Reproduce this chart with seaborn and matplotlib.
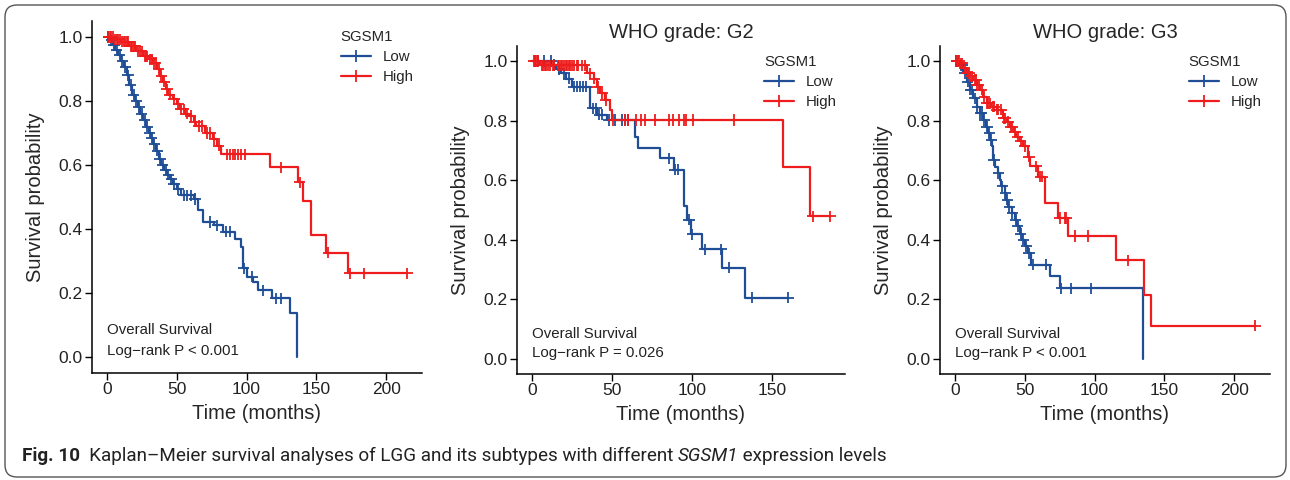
import numpy as np
import pandas as pd
import matplotlib
matplotlib.use("Agg")
import matplotlib.pyplot as plt
import seaborn as sns
from matplotlib.lines import Line2D
from matplotlib.patches import FancyBboxPatch
from matplotlib.transforms import IdentityTransform

# ---------------- data ----------------
groups = ["Low", "High"]
titles = ["", "WHO grade: G2", "WHO grade: G3"]
pvals = ["Log\u2212rank P < 0.001", "Log\u2212rank P = 0.026", "Log\u2212rank P < 0.001"]
xticks = [[0, 50, 100, 150, 200], [0, 50, 100, 150], [0, 50, 100, 150, 200]]
yticks = [0.0, 0.2, 0.4, 0.6, 0.8, 1.0]

# Panel 1: all LGG
low1_t = [0, 2, 4, 6, 8, 10, 12, 14, 16, 18, 20, 22, 24, 26, 28, 30, 31.5, 33, 35, 37,
          39, 41, 43, 45, 47, 50, 53, 62, 65, 68.5, 77, 83, 92, 96, 97.5, 100, 104.5, 108, 118, 131.5, 136]
low1_s = [1.0, .99, .975, .96, .945, .925, .905, .88, .85, .82, .80, .78, .76, .74, .72, .70, .685, .665, .645, .62,
          .60, .585, .57, .555, .54, .525, .505, .494, .458, .422, .411, .391, .37, .344, .277, .251, .235, .209, .183, .137, 0.0]
low1_c = [1, 3, 5, 7, 9, 11, 13, 15, 17, 19, 21, 23, 25, 27, 29, 30.5, 32, 34, 36, 38, 40, 42, 44, 46, 48,
          51, 55, 57, 60, 63, 74, 79, 85, 88, 98, 104, 112, 121, 125]
high1_t = [0, 5, 10, 16, 21, 26, 30, 33, 36, 38, 40, 42, 44, 47, 50, 52, 56, 59, 62, 64, 70, 76, 78.5, 82,
           116.5, 137, 140.5, 146.5, 157.3, 173, 215]
high1_s = [1.0, .993, .985, .971, .955, .94, .93, .919, .90, .878, .86, .836, .82, .805, .79, .774, .76, .753, .735, .722,
           .70, .681, .66, .634, .593, .546, .487, .38, .326, .261, .261]
high1_c = [1, 2, 3, 4, 6, 7, 8, 9, 11, 12, 13, 14, 15, 17, 18, 19, 20, 22, 24, 25, 27, 28, 29, 31, 32, 34, 35, 37,
           39, 41, 43, 45, 48, 51, 53, 55, 57, 60, 63, 66, 68, 72, 74, 77, 80, 86, 88, 90, 92, 94, 96, 99,
           125, 138, 158.5, 174, 184, 215]

# Panel 2: WHO grade G2
low2_t = [0, 12, 15, 18, 21, 25, 36.4, 40.5, 46.7, 64.2, 66, 79.6, 88.9, 95, 96.8, 99.2, 106.4, 118.7, 132.7, 160]
low2_s = [1.0, .986, .972, .958, .941, .913, .841, .819, .802, .746, .707, .674, .635, .512, .468, .418, .368, .306, .206, .206]
low2_c = [2, 4, 7.8, 11.9, 14, 17, 20, 23, 26, 28, 30, 32, 34, 38, 40, 42, 44, 48, 52, 56, 58, 60,
          85.8, 89, 91, 98, 100, 108, 118, 123, 137, 160]
high2_t = [0, 5, 34.4, 38.5, 40.6, 42.6, 45.7, 48.8, 49.8, 156.8, 173.3, 186]
high2_s = [1.0, .985, .958, .941, .913, .891, .869, .835, .802, .643, .479, .479]
high2_c = [1, 2, 3, 4, 6, 7, 8, 9, 10, 11, 13, 14, 16, 17, 18, 19, 20, 21, 22, 23, 24, 25, 26, 28, 29, 31, 33,
           36, 39, 41, 44, 46, 50.8, 58, 60, 65.2, 68.3, 70.4, 76.5, 85.8, 87.8, 92, 95, 96.1, 100.2, 125.9, 175.3, 186]

# Panel 3: WHO grade G3
low3_t = [0, 3, 5.9, 8.3, 10.5, 13.1, 15.5, 17.9, 20.2, 22, 23.8, 25, 26.2, 27.4, 29, 30.5, 32.1, 33.3, 35.5, 36.8,
          38.1, 40.5, 42.9, 44.5, 46.4, 48, 50, 52, 54.8, 67.9, 75, 135]
low3_s = [1.0, .985, .959, .93, .903, .875, .847, .825, .802, .78, .758, .735, .713, .668, .645, .624, .60, .579, .556, .534,
          .51, .489, .467, .445, .42, .40, .378, .355, .316, .277, .238, 0.0]
low3_c = [1, 2, 4, 5, 7, 9, 11, 12, 14, 16, 18, 19, 21, 23, 24.5, 26, 28, 31, 34, 36, 37.5, 39, 41, 43.5, 45,
          47, 49, 51, 53, 56, 65.5, 76.2, 83.3, 97.6]
high3_t = [0, 3.6, 6, 8.3, 10.5, 13.1, 15.5, 17.9, 20, 22.6, 26, 29.8, 34.5, 37, 39.3, 42, 44, 46.5, 48.8, 52.4,
           54, 59.5, 64.3, 73.8, 80.9, 115.5, 135.7, 140.5, 215]
high3_s = [1.0, .992, .975, .959, .948, .936, .92, .903, .88, .858, .847, .836, .808, .795, .78, .763, .746, .73, .713, .679,
           .646, .612, .523, .473, .413, .331, .216, .112, .112]
high3_c = [1, 2, 3, 4.5, 5, 7, 9, 10, 11, 12, 14, 15, 16, 17, 19, 21, 23, 24, 25, 27, 28, 30, 31, 33, 35, 36, 38,
           40, 41, 43, 45, 47, 50, 53, 58, 61, 62.5, 75, 78.5, 79.8, 85.7, 95, 123.8, 215]

panels = [
    ((low1_t, low1_s, low1_c), (high1_t, high1_s, high1_c)),
    ((low2_t, low2_s, low2_c), (high2_t, high2_s, high2_c)),
    ((low3_t, low3_s, low3_c), (high3_t, high3_s, high3_c)),
]

palette = {"Low": "#1F4E96", "High": "#EE1C1C"}

# ---------------- style ----------------
sns.set_theme(style="ticks")
plt.rcParams["font.family"] = ["Liberation Sans", "DejaVu Sans"]

fig = plt.figure(figsize=(12.9, 4.8), dpi=100)
W, H = 1290, 480
# axes boxes in pixels: (left, top, right, bottom)
boxes = [(92, 21, 422, 373), (517, 46, 845, 374), (940, 46, 1270, 374)]

for i, (box, pdata) in enumerate(zip(boxes, panels)):
    l, t, r, b = box
    ax = fig.add_axes([l / W, 1 - b / H, (r - l) / W, (b - t) / H])
    step_rows, cens_rows = [], []
    tmax = 0
    for g, (tt, ss, cc) in zip(groups, pdata):
        tt = np.asarray(tt, float); ss = np.asarray(ss, float); cc = np.asarray(cc, float)
        tmax = max(tmax, tt.max(), cc.max())
        for a, s_ in zip(tt, ss):
            step_rows.append((a, s_, g))
        idx = np.searchsorted(tt, cc, side="right") - 1
        for a, s_ in zip(cc, ss[idx]):
            cens_rows.append((a, s_, g))
    steps = pd.DataFrame(step_rows, columns=["time", "surv", "group"])
    cens = pd.DataFrame(cens_rows, columns=["time", "surv", "group"])

    sns.lineplot(data=steps, x="time", y="surv", hue="group", hue_order=groups, palette=palette,
                 drawstyle="steps-post", estimator=None, sort=False, legend=False, lw=1.6, ax=ax)
    sns.scatterplot(data=cens, x="time", y="surv", hue="group", hue_order=groups, palette=palette,
                    marker="+", s=65, linewidth=1.3, legend=False, ax=ax, zorder=3)

    ax.set_xlim(-0.05 * tmax, 1.05 * tmax)
    ax.set_ylim(-0.05, 1.05)
    ax.set_xticks(xticks[i])
    ax.set_yticks(yticks)
    ax.set_yticklabels([f"{v:.1f}" for v in yticks])
    ax.set_xlabel("Time (months)", fontsize=14.5, labelpad=5)
    ax.set_ylabel("Survival probability", fontsize=14.5, labelpad=10)
    ax.tick_params(axis="both", labelsize=12.5, length=5, width=1.0, pad=1.5, color="black",
                   labelcolor="#222222")
    for sp in ["top", "right"]:
        ax.spines[sp].set_visible(False)
    for sp in ["left", "bottom"]:
        ax.spines[sp].set_linewidth(1.1)
        ax.spines[sp].set_color("black")
    if titles[i]:
        ax.set_title(titles[i], fontsize=14.5, pad=6)

    ax.text(0, 0.085, "Overall Survival", fontsize=10.8, ha="left", va="center", color="#222222")
    ax.text(0, 0.02, pvals[i], fontsize=10.8, ha="left", va="center", color="#222222")

    handles = [Line2D([], [], color=palette[g], lw=1.6, marker="+", markersize=9, mew=1.3) for g in groups]
    leg = ax.legend(handles, groups, title="SGSM1", loc="upper left", bbox_to_anchor=(0.735, 1.0 - 3 / (b - t)),
                    frameon=False, fontsize=10.8, title_fontsize=10.8, handlelength=2.0, handletextpad=0.8,
                    labelspacing=0.4, borderaxespad=0, alignment="left")

# caption
renderer = fig.canvas.get_renderer()
pieces = [("Fig. 10", dict(weight="bold")),
          ("  Kaplan\u2013Meier survival analyses of LGG and its subtypes with different ", {}),
          ("SGSM1", dict(style="italic")),
          (" expression levels", {})]
x = 22
for txt, kw in pieces:
    tobj = fig.text(x / W, 1 - 456 / H, txt, fontsize=13.6, va="center", ha="left",
                    family=["Roboto", "DejaVu Sans"], color="#222222", **kw)
    bb = tobj.get_window_extent(renderer=renderer)
    x += bb.width

# border
border = FancyBboxPatch((5, 3), 1281, 472, boxstyle="round,pad=0,rounding_size=12",
                        transform=IdentityTransform(), fill=False, edgecolor="#555555", lw=1.0)
fig.patches.append(border)

fig.savefig("out.png", dpi=100)
